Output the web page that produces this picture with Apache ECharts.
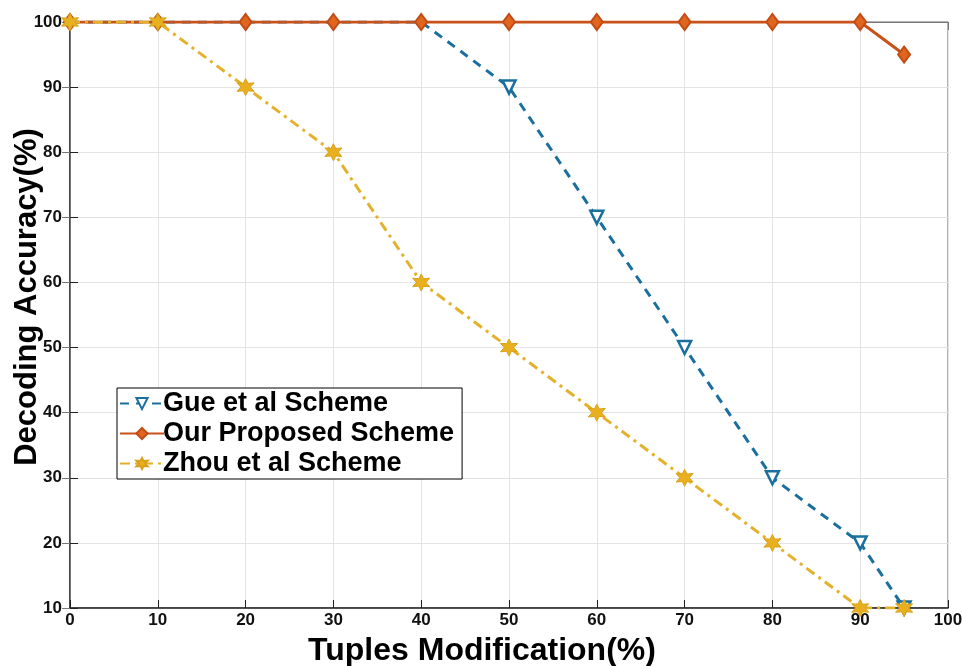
<!DOCTYPE html>
<html>
<head>
<meta charset="utf-8">
<script src="https://cdn.jsdelivr.net/npm/echarts@6/dist/echarts.min.js"></script>
<style>
    html, body {margin: 0; padding: 0; background: #fff;}
    #chart {width: 962px; height: 666px;}
</style>
</head>
<body>
<div id="chart"></div>
<script>
    var xValues = [0, 10, 20, 30, 40, 50, 60, 70, 80, 90, 95];
    var gueData = [100, 100, 100, 100, 100, 90, 70, 50, 30, 20, 10];
    var ourData = [100, 100, 100, 100, 100, 100, 100, 100, 100, 100, 95];
    var zhouData = [100, 100, 90, 80, 60, 50, 40, 30, 20, 10, 10];
    var seriesNames = ['Gue et al Scheme', 'Our Proposed Scheme', 'Zhou et al Scheme'];

    // six-pointed star like matlab 'h' marker
    var hexagram = 'path://M50,0 L62,28 L93,25 L74,50 L93,75 L62,72 L50,100 L38,72 L7,75 L26,50 L7,25 L38,28 Z';

    function pairs(ys) {
        return xValues.map(function (x, i) { return [x, ys[i]]; });
    }

    // gue markers are covered by the orange ones up to 40
    var guePoints = xValues.map(function (x, i) {
        var item = {value: [x, gueData[i]]};
        if (x <= 40) {
            item.symbol = 'none';
        }
        return item;
    });

    var font = 'Liberation Sans, Arial, Helvetica, sans-serif';
    var chart = echarts.init(document.getElementById('chart'));

    var option = {
        backgroundColor: '#fff',
        animation: false,
        grid: {
            left: 70, right: 14, top: 22, bottom: 58,
            outerBoundsMode: 'none',
            show: true, borderColor: '#666', borderWidth: 1
        },
        legend: {
            orient: 'vertical',
            left: 117, top: 388,
            padding: [2, 8, 2, 2],
            itemGap: 3,
            itemWidth: 44, itemHeight: 14,
            borderColor: '#000', borderWidth: 1,
            backgroundColor: '#fff',
            data: seriesNames,
            textStyle: {fontFamily: font, fontWeight: 'bold', fontSize: 27, color: '#000', padding: [0, 0, 0, -6]}
        },
        xAxis: [{
            type: 'value', min: 0, max: 100, interval: 10,
            name: 'Tuples Modification(%)', nameLocation: 'middle', nameGap: 27,
            nameMoveOverlap: false,
            nameTextStyle: {fontFamily: font, fontWeight: 'bold', fontSize: 32, color: '#000', padding: [0, 54, 0, 0]},
            axisLine: {show: true, lineStyle: {color: '#222', width: 1.5}},
            axisTick: {show: true, inside: true, length: 8, lineStyle: {color: '#222'}},
            axisLabel: {fontFamily: font, fontWeight: 'bold', fontSize: 17, color: '#111', margin: 4},
            splitLine: {show: true, lineStyle: {color: '#e3e3e3'}}
        }, {
            type: 'value', min: 0, max: 100, interval: 10, position: 'top',
            axisLine: {show: true, lineStyle: {color: '#777'}},
            axisTick: {show: true, inside: true, length: 8, lineStyle: {color: '#777'}},
            axisLabel: {show: false}, splitLine: {show: false}
        }],
        yAxis: [{
            type: 'value', min: 10, max: 100, interval: 10,
            name: 'Decoding Accuracy(%)', nameLocation: 'middle', nameGap: 27, nameRotate: 90,
            nameMoveOverlap: false,
            nameTextStyle: {fontFamily: font, fontWeight: 'bold', fontSize: 31, color: '#000', padding: [0, 0, 0, 36]},
            axisLine: {show: true, lineStyle: {color: '#222', width: 1.5}},
            axisTick: {show: true, inside: true, length: 8, lineStyle: {color: '#222'}},
            axisLabel: {fontFamily: font, fontWeight: 'bold', fontSize: 17, color: '#111', margin: 8},
            splitLine: {show: true, lineStyle: {color: '#e3e3e3'}}
        }, {
            type: 'value', min: 10, max: 100, interval: 10, position: 'right',
            axisLine: {show: true, lineStyle: {color: '#777'}},
            axisTick: {show: true, inside: true, length: 8, lineStyle: {color: '#777'}},
            axisLabel: {show: false}, splitLine: {show: false}
        }],
        series: [
            {
                name: seriesNames[0], type: 'line', data: guePoints,
                symbol: 'triangle', symbolRotate: 180, symbolSize: 13,
                lineStyle: {color: '#1a6f9e', width: 3, type: [9, 7]},
                itemStyle: {color: '#fff', borderColor: '#1a6f9e', borderWidth: 2.5},
                z: 2
            },
            {
                name: seriesNames[1], type: 'line', data: pairs(ourData),
                symbol: 'diamond', symbolSize: [12, 16],
                lineStyle: {color: '#c85219', width: 3, type: 'solid'},
                itemStyle: {color: '#e0651f', borderColor: '#c24c15', borderWidth: 2},
                z: 3
            },
            {
                name: seriesNames[2], type: 'line', data: pairs(zhouData),
                symbol: hexagram, symbolSize: 17,
                lineStyle: {color: '#e3b12c', width: 3, type: [10, 5, 3, 5]},
                itemStyle: {color: '#e8b01e', borderColor: '#d9a21a', borderWidth: 1},
                z: 4
            }
        ]
    };
    chart.setOption(option);
</script>
</body>
</html>
